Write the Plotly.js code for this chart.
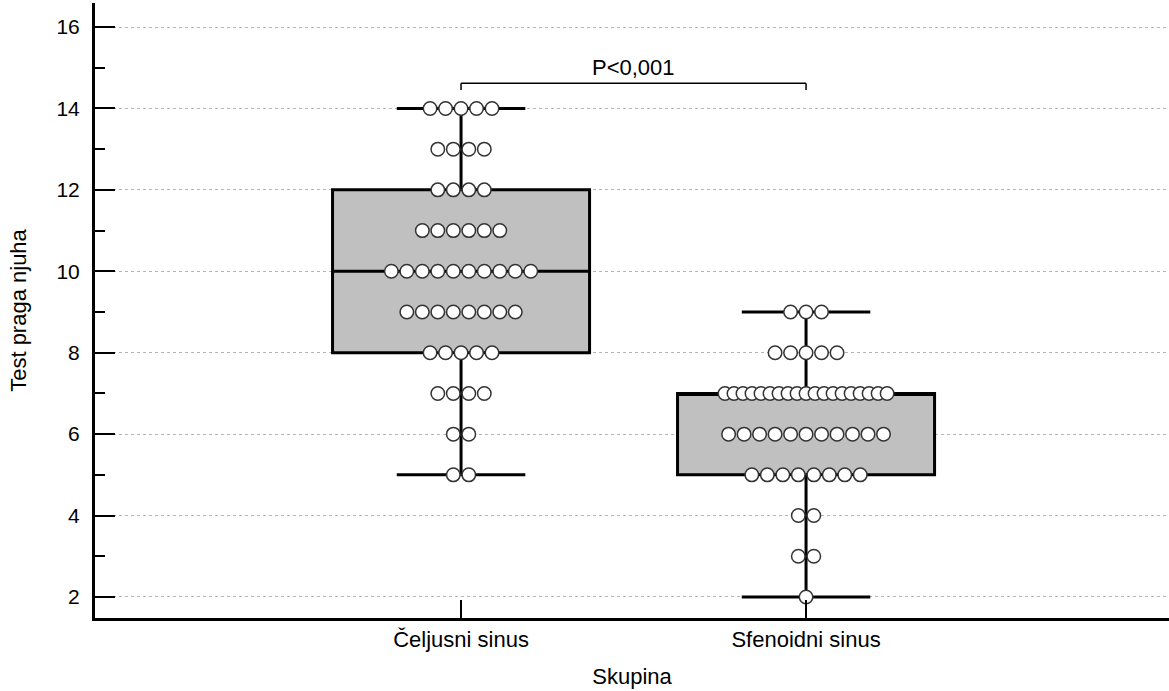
<!DOCTYPE html>
<html>
<head>
<meta charset="utf-8">
<script src="https://cdn.plot.ly/plotly-3.0.1.min.js"></script>
<style>html,body{margin:0;padding:0;background:#fff}#chart{width:1169px;height:691px}</style>
</head>
<body>
<div id="chart"></div>
<script>
// ---- data ----
const categories = ['Čeljusni sinus', 'Sfenoidni sinus'];
const levelsCeljusni = [5, 6, 7, 8, 9, 10, 11, 12, 13, 14];
const countsCeljusni = [2, 2, 4, 5, 8, 10, 6, 4, 4, 5];
const levelsSfenoidni = [2, 3, 4, 5, 6, 7, 8, 9];
const countsSfenoidni = [1, 2, 2, 8, 11, 19, 5, 3];
const q1Values = [8, 5];
const medianValues = [10, 7];
const q3Values = [12, 7];
const lowerWhisker = [5, 2];
const upperWhisker = [14, 9];
const yTickVals = [2, 4, 6, 8, 10, 12, 14, 16];
const pLabel = 'P<0,001';

// ---- helpers ----
const pointGap = 0.0449;   // horizontal gap between dots (x units)
const maxSpan = 0.47;      // widest row (x units)
function swarm(pos, levels, counts) {
  const xs = [], ys = [];
  levels.forEach((lv, i) => {
    const n = counts[i];
    let gap = pointGap;
    if (n > 1 && (n - 1) * gap > maxSpan) gap = maxSpan / (n - 1);
    for (let k = 0; k < n; k++) {
      xs.push(pos + (k - (n - 1) / 2) * gap);
      ys.push(lv);
    }
  });
  return {xs, ys};
}

const traces = [];
categories.forEach((c, i) => {
  traces.push({
    type: 'box', x: [i], q1: [q1Values[i]], median: [medianValues[i]], q3: [q3Values[i]],
    lowerfence: [lowerWhisker[i]], upperfence: [upperWhisker[i]],
    width: 0.745, whiskerwidth: 0.5, boxpoints: false,
    fillcolor: '#c0c0c0', line: {color: '#000', width: 3},
    showlegend: false, hoverinfo: 'skip'
  });
});
const s1 = swarm(0, levelsCeljusni, countsCeljusni);
const s2 = swarm(1, levelsSfenoidni, countsSfenoidni);
[s1, s2].forEach(s => {
  traces.push({
    type: 'scatter', mode: 'markers', x: s.xs, y: s.ys, showlegend: false, hoverinfo: 'skip',
    marker: {symbol: 'circle', size: 13.5, color: '#fff', line: {color: '#333', width: 1.5}}
  });
});

const bracketTop = 14.62, bracketBottom = 14.45;
const layout = {
  width: 1169, height: 691,
  margin: {l: 95, r: 0, t: 3, b: 73},
  paper_bgcolor: '#fff', plot_bgcolor: '#fff',
  font: {family: 'Liberation Sans, Arial, sans-serif', size: 22, color: '#000'},
  xaxis: {
    range: [-1.061, 2.052], tickvals: [0, 1], ticktext: categories,
    showgrid: false, zeroline: false, showline: true, linewidth: 3, linecolor: '#000',
    ticks: 'inside', ticklen: 18, tickwidth: 2, tickcolor: '#000',
    tickfont: {size: 22}, title: {text: 'Skupina', font: {size: 22}, standoff: 18}
  },
  yaxis: {
    range: [1.484, 16.59], tickvals: yTickVals,
    showgrid: true, gridcolor: '#b5b5b5', gridwidth: 1, griddash: 'dot',
    zeroline: false, showline: true, linewidth: 3, linecolor: '#000',
    ticks: 'inside', ticklen: 20, tickwidth: 2, tickcolor: '#000',
    ticklabelstandoff: 8,
    minor: {dtick: 1, tick0: 1, ticks: 'inside', ticklen: 10, tickwidth: 2, tickcolor: '#000', showgrid: false},
    tickfont: {size: 21}, title: {text: 'Test praga njuha', font: {size: 22}, standoff: 24}
  },
  shapes: [
    {type: 'line', xref: 'x', yref: 'y', x0: 0, x1: 1, y0: bracketTop, y1: bracketTop, line: {color: '#000', width: 1.5}},
    {type: 'line', xref: 'x', yref: 'y', x0: 0, x1: 0, y0: bracketTop, y1: bracketBottom, line: {color: '#000', width: 1.5}},
    {type: 'line', xref: 'x', yref: 'y', x0: 1, x1: 1, y0: bracketTop, y1: bracketBottom, line: {color: '#000', width: 1.5}}
  ],
  annotations: [
    {x: 0.5, y: bracketTop, xref: 'x', yref: 'y', text: pLabel, showarrow: false,
     yanchor: 'bottom', yshift: 1, font: {size: 22, color: '#000'}}
  ]
};
Plotly.newPlot('chart', traces, layout, {displayModeBar: false, staticPlot: true});
</script>
</body>
</html>
